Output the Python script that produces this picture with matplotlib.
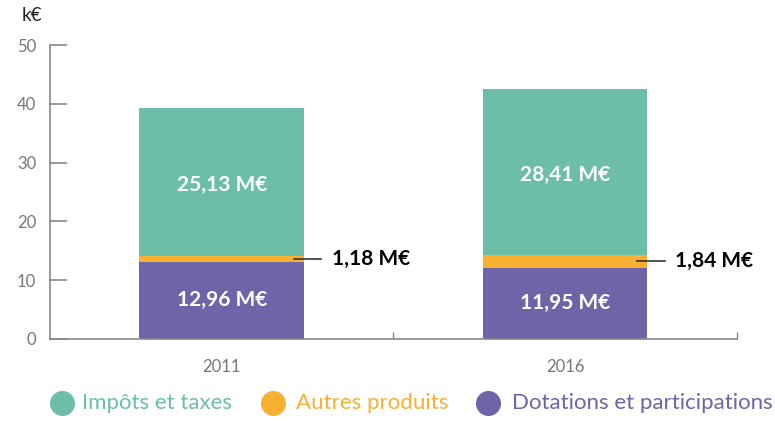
import matplotlib.pyplot as plt

plt.rcParams['font.family'] = ['Lato', 'DejaVu Sans']

years = ["2011", "2016"]
dotations = [13.1, 12.1]
autres = [1.0, 2.2]
impots = [25.2, 28.2]
label_impots = ["25,13 M€", "28,41 M€"]
label_autres = ["1,18 M€", "1,84 M€"]
label_dotations = ["12,96 M€", "11,95 M€"]
series_names = ["Impôts et taxes", "Autres produits", "Dotations et participations"]

c_green = "#6cbea8"
c_orange = "#f7b032"
c_purple = "#6f64a8"

fig = plt.figure(figsize=(7.75, 4.21), dpi=100)
ax = fig.add_axes([0.0645, 0.195, 0.886, 0.698])

x = [0, 1]
w = 0.48
ax.bar(x, dotations, w, color=c_purple)
ax.bar(x, autres, w, bottom=dotations, color=c_orange)
bot2 = [d + a for d, a in zip(dotations, autres)]
ax.bar(x, impots, w, bottom=bot2, color=c_green)

for i in x:
    ax.text(i, bot2[i] + impots[i] / 2 - 0.5, label_impots[i], color="white", fontsize=15,
            fontweight="bold", ha="center", va="center")
    ax.text(i, dotations[i] / 2, label_dotations[i], color="white", fontsize=15,
            fontweight="bold", ha="center", va="center")
    ym = dotations[i] + autres[i] / 2
    ax.plot([i + 0.21, i + 0.29], [ym, ym], color="#333333", lw=1.2)
    ax.text(i + 0.32, ym, label_autres[i], color="black", fontsize=15,
            fontweight="bold", ha="left", va="center")

ax.set_xlim(-0.5, 1.5)
ax.set_ylim(0, 50)
ax.set_yticks(range(0, 51, 10))
ax.set_xticks([0.5, 1.5])
ax.set_xticklabels([])
ax.tick_params(axis="y", direction="in", length=12, width=1.2, color="#888888",
               labelcolor="#777777", labelsize=12, pad=10)
ax.tick_params(axis="x", direction="in", length=5, width=1, color="#888888")
for s in ["top", "right"]:
    ax.spines[s].set_visible(False)
for s in ["left", "bottom"]:
    ax.spines[s].set_color("#888888")
    ax.spines[s].set_linewidth(1.2)

for i in x:
    ax.text(i, -4.8, years[i], color="#777777", fontsize=12, ha="center", va="center")

fig.text(0.028, 0.962, "k€", fontsize=13.5, color="#222222", ha="left", va="center")

leg_y = 1 - 403 / 421
leg = [(62, 82, c_green), (273, 296, c_orange), (488, 512, c_purple)]
for (cx, tx, col), name in zip(leg, series_names):
    ax.plot([cx / 775], [leg_y], "o", ms=17, color=col, transform=fig.transFigure,
            clip_on=False)
    fig.text(tx / 775, leg_y, name, color=col, fontsize=16, ha="left", va="center")

fig.savefig("out.png", dpi=100)
